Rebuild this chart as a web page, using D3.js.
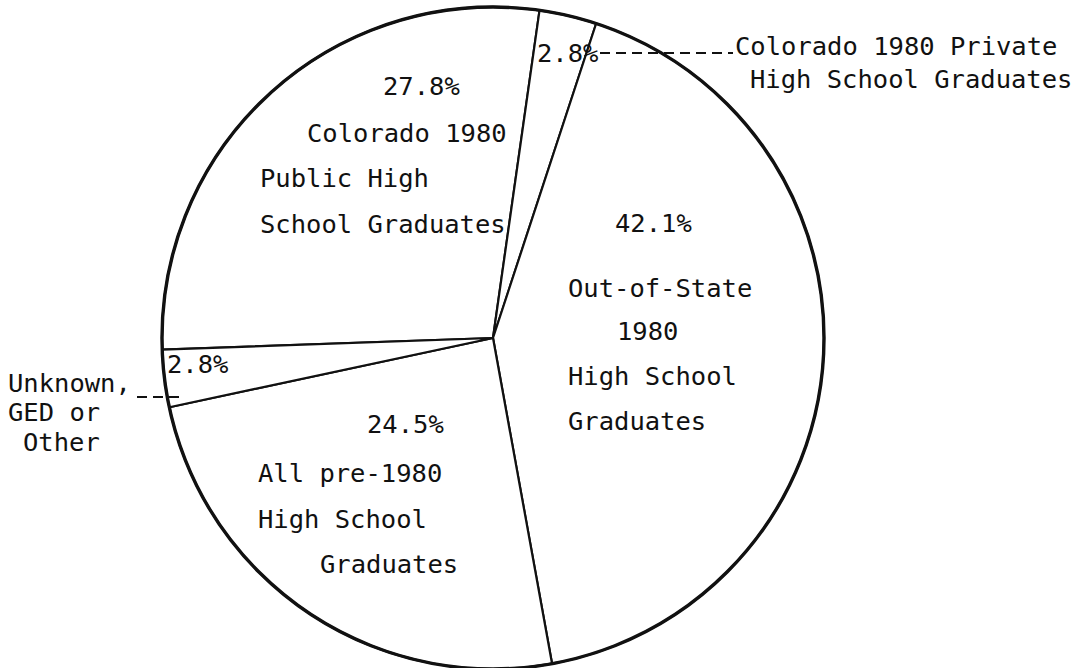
<!DOCTYPE html>
<html>
<head>
<meta charset="utf-8">
<script src="https://cdn.jsdelivr.net/npm/d3@7"></script>
<style>
  html, body { margin: 0; padding: 0; background: #fff; }
  svg text { font-family: "DejaVu Sans Mono", "Liberation Mono", monospace; font-size: 25.5px; fill: #111; }
</style>
</head>
<body>
<div id="pie"></div>
<script>
const width = 1082;
const height = 668;

// slice data, clockwise from the horizontal line on the left
const categories = ['public', 'private', 'outOfState', 'pre1980', 'unknown'];
const shares = [27.8, 2.8, 42.1, 24.5, 2.8];
const labelLines = [
  ['Colorado 1980', 'Public High', 'School Graduates'],
  [],
  ['Out-of-State', '1980', 'High School', 'Graduates'],
  ['All pre-1980', 'High School', 'Graduates'],
  []
];
const calloutLines = [
  [],
  ['Colorado 1980 Private', 'High School Graduates'],
  [],
  [],
  ['Unknown,', 'GED or', 'Other']
];

// hand placed text, like the typed original
const pctPos = [[383, 95], [537, 62], [615, 232], [367, 433], [167, 373]];
const linePos = [
  [[307, 142], [260, 187], [260, 233]],
  [],
  [[568, 297], [617, 340], [568, 385], [568, 430]],
  [[258, 482], [258, 528], [320, 573]],
  []
];
const calloutPos = [
  [],
  [[735, 55], [750, 88]],
  [],
  [],
  [[8, 392], [8, 421], [23, 451]]
];

const cx = 493, cy = 338, radius = 331;

const svg = d3.select('#pie')
  .append('svg')
  .attr('width', width)
  .attr('height', height);

const g = svg.append('g')
  .attr('transform', 'translate(' + cx + ',' + cy + ')');

const start = 268 * Math.PI / 180;
const pie = d3.pie()
  .sort(null)
  .startAngle(start)
  .endAngle(start + 2 * Math.PI);

const arcs = pie(shares);
const arc = d3.arc().innerRadius(0).outerRadius(radius);

g.selectAll('path.slice')
  .data(arcs)
  .enter()
  .append('path')
  .attr('class', 'slice')
  .attr('d', arc)
  .attr('fill', 'white')
  .attr('stroke', '#111')
  .attr('stroke-width', 2.2)
  .attr('stroke-linejoin', 'round');

// heavier outer ring
g.append('circle')
  .attr('r', radius)
  .attr('fill', 'none')
  .attr('stroke', '#111')
  .attr('stroke-width', 3.4);

const fmt = d3.format('.1f');

// percentages
svg.selectAll('text.pct')
  .data(arcs)
  .enter()
  .append('text')
  .attr('class', 'pct')
  .attr('x', (d, i) => pctPos[i][0])
  .attr('y', (d, i) => pctPos[i][1])
  .text(d => fmt(d.data) + '%');

// labels inside the slices
labelLines.forEach((lines, i) => {
  lines.forEach((t, j) => {
    svg.append('text')
      .attr('x', linePos[i][j][0])
      .attr('y', linePos[i][j][1])
      .text(t);
  });
});

// labels outside, with dashed leaders
calloutLines.forEach((lines, i) => {
  lines.forEach((t, j) => {
    svg.append('text')
      .attr('x', calloutPos[i][j][0])
      .attr('y', calloutPos[i][j][1])
      .text(t);
  });
});

svg.append('line')
  .attr('x1', 600).attr('y1', 53)
  .attr('x2', 733).attr('y2', 53)
  .attr('stroke', '#111')
  .attr('stroke-width', 2)
  .attr('stroke-dasharray', '10,6');

svg.append('line')
  .attr('x1', 137).attr('y1', 397)
  .attr('x2', 180).attr('y2', 397)
  .attr('stroke', '#111')
  .attr('stroke-width', 2)
  .attr('stroke-dasharray', '10,6');
</script>
</body>
</html>
